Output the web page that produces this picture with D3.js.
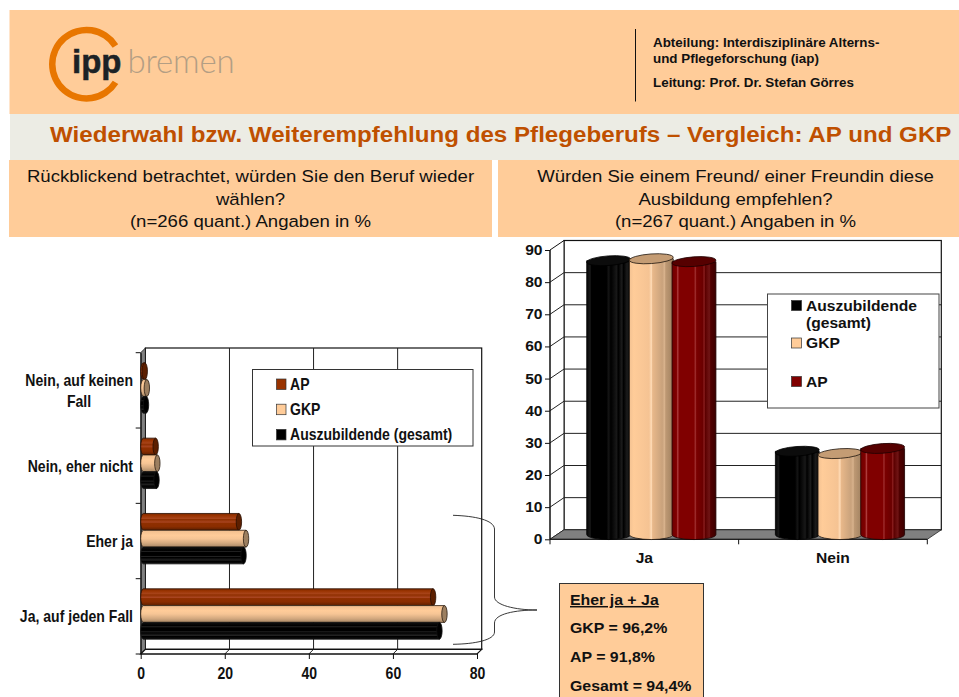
<!DOCTYPE html>
<html><head><meta charset="utf-8">
<script src="https://cdn.jsdelivr.net/npm/d3@7"></script>
<style>html,body{margin:0;padding:0;background:#fff;overflow:hidden}svg{display:block}text{font-family:"Liberation Sans",Arial,sans-serif}</style>
</head><body><div id="c"></div>
<script>
const headerLines = ["Abteilung: Interdisziplinäre Alterns-", "und Pflegeforschung (iap)", "Leitung: Prof. Dr. Stefan Görres"];
const mainTitle = "Wiederwahl bzw. Weiterempfehlung des Pflegeberufs – Vergleich: AP und GKP";
const leftHead = ["Rückblickend betrachtet, würden Sie den Beruf wieder", "wählen?", "(n=266 quant.) Angaben in %"];
const rightHead = ["Würden Sie einem Freund/ einer Freundin diese", "Ausbildung empfehlen?", "(n=267 quant.) Angaben in %"];

const leftCategories = ["Nein, auf keinen Fall", "Nein, eher nicht", "Eher ja", "Ja, auf jeden Fall"];
const leftSeries = ["AP", "GKP", "Auszubildende (gesamt)"];
const leftAP = [0.4, 3.0, 22.8, 69.0];
const leftGKP = [0.9, 3.4, 24.5, 71.7];
const leftGesamt = [0.7, 3.2, 23.9, 70.5];
const leftTicks = [0, 20, 40, 60, 80];

const rightCategories = ["Ja", "Nein"];
const rightSeries = ["Auszubildende (gesamt)", "GKP", "AP"];
const rightGesamt = [85.2, 25.9];
const rightGKP = [85.8, 25.2];
const rightAP = [84.9, 26.8];
const rightTicks = [0, 10, 20, 30, 40, 50, 60, 70, 80, 90];

const calloutLines = ["Eher ja + Ja", "GKP = 96,2%", "AP = 91,8%", "Gesamt = 94,4%"];

const W = 959, H = 697;
const svg = d3.select("#c").append("svg").attr("width", W).attr("height", H);
const defs = svg.append("defs");
const PEACH = "#FFCC99";

function gradient(id, stops, vertical) {
  const g = defs.append("linearGradient").attr("id", id)
    .attr("x1", 0).attr("y1", 0).attr("x2", vertical ? 0 : 1).attr("y2", vertical ? 1 : 0);
  stops.forEach(s => g.append("stop").attr("offset", s[0]).attr("stop-color", s[1]));
}
// text with a horizontal stretch, as in the stretched reference picture
function stext(parent, px, py, anchor, size, sx, t, opts) {
  const o = opts || {};
  return parent.append("text").attr("transform",`translate(${px},${py}) scale(${sx},1)`)
    .attr("text-anchor",anchor).attr("font-size",size).attr("font-weight",o.weight||700)
    .attr("fill",o.fill||"#111").attr("text-decoration",o.deco||null).text(t);
}
// vertical cylinders (shade runs left to right)
gradient("vBlack", [[0,"#050505"],[.08,"#1a1a1a"],[.1,"#000"],[.45,"#000"],[.5,"#141414"],[.55,"#000"],[.68,"#181818"],[.72,"#000"],[.8,"#1c1c1c"],[.84,"#000"],[.92,"#1c1c1c"],[1,"#000"]]);
gradient("vTan", [[0,"#f3c292"],[.1,"#FFCC99"],[.45,"#f5c393"],[.5,"#ffdcb8"],[.53,"#e8b88a"],[.75,"#c9a27c"],[.8,"#d8b28c"],[.83,"#bd9873"],[1,"#a08160"]]);
gradient("vRed", [[0,"#6e0000"],[.1,"#800000"],[.13,"#b04040"],[.16,"#800000"],[.5,"#800000"],[.53,"#a03030"],[.56,"#7a0000"],[.7,"#6a0000"],[.73,"#8c2020"],[.76,"#5c0000"],[.85,"#701515"],[.88,"#500000"],[1,"#3c0000"]]);
// horizontal cylinders (shade runs top to bottom)
gradient("hAP", [[0,"#7a2800"],[.12,"#993300"],[.3,"#a8441a"],[.36,"#8f2f00"],[.52,"#a84420"],[.58,"#8f2f00"],[.78,"#8a2d00"],[1,"#5c1f00"]], true);
gradient("hGKP", [[0,"#f0be8e"],[.3,"#FFCC99"],[.5,"#f6c595"],[.75,"#d6ab81"],[1,"#a88866"]], true);
gradient("hBlack", [[0,"#111"],[.2,"#000"],[.26,"#222"],[.32,"#000"],[.5,"#000"],[.56,"#222"],[.62,"#000"],[.78,"#222"],[.84,"#000"],[1,"#111"]], true);

// ---- page panels ----
svg.append("rect").attr("x",9.5).attr("y",10).attr("width",W).attr("height",104).attr("fill",PEACH);
svg.append("rect").attr("x",10).attr("y",114).attr("width",W).attr("height",46).attr("fill","#ECECE4");
svg.append("rect").attr("x",9).attr("y",160).attr("width",483).attr("height",77).attr("fill",PEACH);
svg.append("rect").attr("x",498).attr("y",160).attr("width",461).attr("height",77).attr("fill",PEACH);

// logo
const logo = svg.append("g").attr("transform","translate(86.5,64.2)");
logo.append("path").attr("fill","#E87600")
  .attr("d", d3.arc().innerRadius(31).outerRadius(37.5).startAngle(2.13).endAngle(7.29)());
logo.append("text").attr("x",-14.5).attr("y",8.5).attr("font-size",33).attr("font-weight",700).attr("fill","#1c2226").attr("stroke","#1c2226").attr("stroke-width",.5).text("ipp");
logo.append("text").attr("x",41).attr("y",8.5).attr("font-size",33).attr("font-weight",300).attr("fill","#B39E84").style("font-family","Lato").attr("letter-spacing",-0.2).text("bremen");

svg.append("line").attr("x1",635.5).attr("x2",635.5).attr("y1",29).attr("y2",101.5).attr("stroke","#111");
[47.3,63.3,87].forEach((p,i)=>svg.append("text").attr("x",653).attr("y",p).attr("font-size",13.4).attr("font-weight",700).attr("fill","#111").text(headerLines[i]));

stext(svg,50,142.3,"start",21.9,1.103,mainTitle,{fill:"#BF5000"});

const headY = [181.7,205,226.7];
leftHead.forEach((t,i)=>stext(svg,250.5,headY[i],"middle",17,1.094,t,{weight:400}));
rightHead.forEach((t,i)=>stext(svg,735.5,headY[i],"middle",17,1.094,t,{weight:400}));

// ---- left chart: horizontal cylinders ----
(function(){
  const NARROW_FS = 16, NARROW_X = 0.878;
  const dx = 4.7, dy = -4.7;
  const x = d3.scaleLinear().domain([0,80]).range([140.7,477]);
  const y = d3.scaleBand().domain(leftCategories).range([352.7,654]);
  const inner = d3.scaleBand().domain(leftSeries).range([0,50.4]);
  const g = svg.append("g");
  const yBot = y.range()[1], yTop = y.range()[0];
  g.append("rect").attr("x",x(0)+dx).attr("y",yTop+dy).attr("width",x(80)-x(0)).attr("height",yBot-yTop).attr("fill","#fff").attr("stroke","#111").attr("stroke-width",1.2);
  g.append("path").attr("fill","#808080").attr("stroke","#111").attr("stroke-width",.8)
    .attr("d",`M${x(0)},${yTop}L${x(0)+dx},${yTop+dy}L${x(0)+dx},${yBot+dy}L${x(0)},${yBot}Z`);
  g.append("path").attr("fill","#fff").attr("stroke","#111").attr("stroke-width",1.2)
    .attr("d",`M${x(0)},${yBot}L${x(0)+dx},${yBot+dy}L${x(80)+dx},${yBot+dy}L${x(80)},${yBot}Z`);
  leftTicks.slice(1,-1).forEach(t=>{
    g.append("path").attr("fill","none").attr("stroke","#222").attr("stroke-width",1)
      .attr("d",`M${x(t)},${yBot}L${x(t)+dx},${yBot+dy}L${x(t)+dx},${yTop+dy}`);
  });
  const ax = g.append("g").attr("transform",`translate(0,${yBot})`).call(d3.axisBottom(x).tickValues(leftTicks).tickSize(5).tickPadding(9));
  ax.selectAll("text").attr("font-size",NARROW_FS).attr("font-weight",700).attr("fill","#111")
    .attr("transform",`scale(${NARROW_X},1)`);
  ax.selectAll("line,path").attr("stroke","#111");
  ax.select(".domain").attr("d",`M${x(0)},0H${x(80)}`);
  const ay = g.append("g").attr("transform",`translate(${x(0)},0)`).call(d3.axisLeft(y).tickValues([]).tickSize(0));
  ay.select(".domain").attr("stroke","#111");
  leftCategories.concat([null]).forEach(c=>{
    const yy = c===null ? yBot : y(c);
    g.append("line").attr("x1",x(0)-5).attr("x2",x(0)).attr("y1",yy).attr("y2",yy).attr("stroke","#111");
  });
  const labelLines = {"Nein, auf keinen Fall":["Nein, auf keinen","Fall"]};
  leftCategories.forEach(c=>{
    const cy = y(c)+y.bandwidth()/2;
    const lines = labelLines[c]||[c];
    lines.forEach((l,i)=>{
      const multi = lines.length>1;
      stext(g, multi&&i?79:133, cy+6+(i-(lines.length-1)/2)*21, multi&&i?"middle":"end", NARROW_FS, NARROW_X, l);
    });
  });
  const series = [
    {name:"AP",vals:leftAP,fill:"url(#hAP)",cap:"#5c1f00",stroke:"#2a0e00",sw:"#993300"},
    {name:"GKP",vals:leftGKP,fill:"url(#hGKP)",cap:"#9c7f60",stroke:"#2a1c10",sw:PEACH},
    {name:"Auszubildende (gesamt)",vals:leftGesamt,fill:"url(#hBlack)",cap:"#000",stroke:"#111",sw:"#000"}];
  const t = inner.bandwidth(), rx = 2.7;
  series.forEach(s=>{
    s.vals.forEach((v,i)=>{
      const c = leftCategories[i];
      const top = y(c)+y.bandwidth()/2-25.2+dy/2+inner(s.name);
      const x0 = x(0), x1 = x(v)+dx/2;
      g.append("path").attr("fill",s.fill).attr("stroke",s.stroke).attr("stroke-width",.8)
        .attr("d",`M${x1},${top}L${x0+rx},${top}A${rx},${t/2} 0 0 0 ${x0+rx},${top+t}L${x1},${top+t}Z`);
      g.append("ellipse").attr("cx",x1).attr("cy",top+t/2).attr("rx",rx).attr("ry",t/2).attr("fill",s.cap).attr("stroke",s.stroke).attr("stroke-width",.8);
    });
  });
  g.append("rect").attr("x",252.5).attr("y",369.5).attr("width",220.5).attr("height",76.5).attr("fill","#fff").attr("stroke","#333");
  series.forEach((s,i)=>{
    const yy = 384+i*25.2;
    g.append("rect").attr("x",276.5).attr("y",yy-5).attr("width",9.5).attr("height",10.5).attr("fill",s.sw).attr("stroke","#333").attr("stroke-width",.7);
    stext(g, 290, yy+5.6, "start", NARROW_FS, NARROW_X, s.name);
  });
})();

// ---- right chart: vertical cylinders ----
(function(){
  const RS = 14.2, RX = 1.1;
  const dx = 14, dy = -9.5;
  const x = d3.scaleBand().domain(rightCategories).range([550,927.3]);
  const y = d3.scaleLinear().domain([0,90]).range([539.3,250]);
  const inner = d3.scaleBand().domain(rightSeries).range([0,128]);
  const g = svg.append("g");
  const xL = 550, xR = 927.3;
  g.append("rect").attr("x",xL+dx).attr("y",y(90)+dy).attr("width",xR-xL).attr("height",y(0)-y(90)).attr("fill","#fff").attr("stroke","#111").attr("stroke-width",1.2);
  g.append("path").attr("fill","#fff").attr("stroke","#111")
    .attr("d",`M${xL},${y(0)}L${xL+dx},${y(0)+dy}L${xL+dx},${y(90)+dy}L${xL},${y(90)}Z`);
  rightTicks.slice(1,-1).forEach(t=>{
    g.append("path").attr("fill","none").attr("stroke","#222").attr("stroke-width",1)
      .attr("d",`M${xL},${y(t)}L${xL+dx},${y(t)+dy}H${xR+dx}`);
  });
  g.append("path").attr("fill","#808080").attr("stroke","#222").attr("stroke-width",.8)
    .attr("d",`M${xL},${y(0)}L${xL+dx},${y(0)+dy}H${xR+dx}L${xR},${y(0)}Z`);
  const ay = g.append("g").attr("transform",`translate(${xL},0)`).call(d3.axisLeft(y).tickValues(rightTicks).tickSize(5).tickPadding(3));
  ay.selectAll("text").attr("font-size",RS).attr("font-weight",700).attr("fill","#111")
    .attr("x",-7.5/RX).attr("transform",`scale(${RX},1)`);
  ay.selectAll("line,path").attr("stroke","#111");
  ay.select(".domain").attr("d",`M0,${y(0)}V${y(90)}`);
  const ax = g.append("g").attr("transform",`translate(0,${y(0)})`).call(d3.axisBottom(x).tickValues([]).tickSize(0));
  ax.select(".domain").attr("stroke","#111").attr("d",`M${xL},0H${xR}`);
  [xL,(xL+xR)/2,xR].forEach(p=>g.append("line").attr("x1",p).attr("x2",p).attr("y1",y(0)).attr("y2",y(0)+5).attr("stroke","#111"));
  rightCategories.forEach(c=>stext(g,x(c)+x.bandwidth()/2,563,"middle",RS,RX,c));

  const series = [
    {name:"Auszubildende (gesamt)",vals:rightGesamt,fill:"url(#vBlack)",top:"#0c0c0c",stroke:"#000",sw:"#000"},
    {name:"GKP",vals:rightGKP,fill:"url(#vTan)",top:"#C49C74",stroke:"#221810",sw:PEACH},
    {name:"AP",vals:rightAP,fill:"url(#vRed)",top:"#560000",stroke:"#200000",sw:"#800000"}];
  const w = inner.bandwidth(), ry = 5;
  series.forEach(s=>{
    s.vals.forEach((v,i)=>{
      const c = rightCategories[i];
      const left = x(c)+x.bandwidth()/2-w*1.5+dx/2+inner(s.name);
      const rx = (w+1.2)/2, cx = left+w/2;
      const yT = y(v)+dy/2, yB = y(0)+dy/2;
      g.append("path").attr("fill",s.fill).attr("stroke",s.stroke).attr("stroke-width",.8)
        .attr("d",`M${cx-rx},${yT}L${cx-rx},${yB}A${rx},${ry} 0 0 0 ${cx+rx},${yB}L${cx+rx},${yT}Z`);
      g.append("ellipse").attr("cx",cx).attr("cy",yT).attr("rx",rx).attr("ry",ry-.2).attr("fill",s.top).attr("stroke",s.stroke).attr("stroke-width",.8)
        .attr("transform",`rotate(-4 ${cx} ${yT})`);
    });
  });
  g.append("rect").attr("x",767.5).attr("y",294).attr("width",171.5).attr("height",114).attr("fill","#fff").attr("stroke","#444");
  const legY = [305.5,343,381.5];
  series.forEach((s,i)=>{
    g.append("rect").attr("x",791.5).attr("y",legY[i]-5).attr("width",10).attr("height",10).attr("fill",s.sw).attr("stroke","#333").attr("stroke-width",.7);
  });
  const legText = [["Auszubildende",311],["(gesamt)",328],["GKP",348],["AP",387]];
  legText.forEach(l=>stext(g,806,l[1],"start",RS,RX,l[0]));
})();

// ---- brace and callout ----
svg.append("path").attr("fill","none").attr("stroke","#222").attr("stroke-width",.9)
  .attr("d","M453,515.3C475,516 494,520 494.5,529V597C494.5,605 515,610 537,610C515,610 494.5,614 494.5,623V632C494.5,640 475,644 453,644.3");
svg.append("rect").attr("x",559.5).attr("y",583.5).attr("width",144).attr("height",120).attr("fill",PEACH).attr("stroke","#333");
const cb = [605,632.7,661.7,690.7];
calloutLines.forEach((t,i)=>stext(svg,570,cb[i],"start",15,1.06,t,{deco:i===0?"underline":null}));
</script></body></html>
